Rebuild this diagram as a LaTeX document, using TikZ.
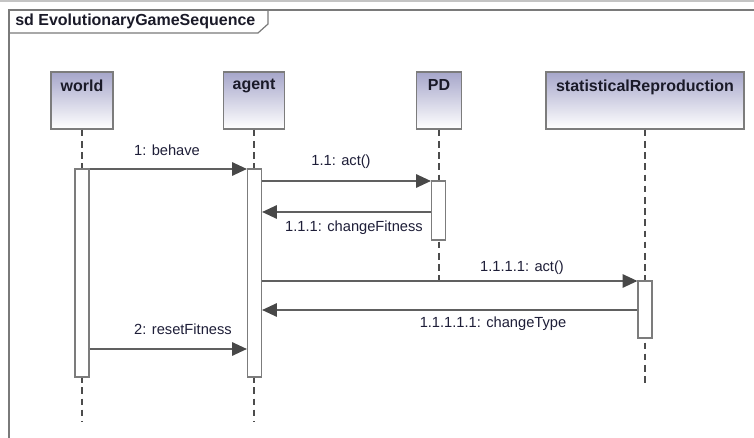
\documentclass[tikz,border=0pt]{standalone}
\usepackage{fontspec}
\setmainfont{Liberation Sans}
\usetikzlibrary{arrows.meta}

\definecolor{framegray}{HTML}{7A7A7A}
\definecolor{bargray}{HTML}{C4C4C4}
\definecolor{boxline}{HTML}{7C7C7C}
\definecolor{headtop}{HTML}{A6A6CA}
\definecolor{lifegray}{HTML}{4C4C4C}
\definecolor{msggray}{HTML}{606060}
\definecolor{tipgray}{HTML}{484848}
\definecolor{labelink}{HTML}{1E1E38}
\definecolor{nameink}{HTML}{1A1A28}

\tikzset{
  head/.style={draw=boxline, line width=1.1pt, top color=headtop, bottom color=white,
    minimum height=57*0.75pt, inner sep=0pt},
  headname/.style={font=\bfseries\fontsize{12}{14}\selectfont, text=nameink, anchor=north, yshift=-6pt, inner sep=0pt},
  lifeline/.style={draw=lifegray, line width=2.1pt, dash pattern=on 5pt off 3.4pt},
  activation/.style={draw=boxline, fill=white, line width=0.9pt, minimum width=14*0.75pt, inner sep=0pt},
  msg/.style={draw=msggray, line width=1.1pt, -{Triangle[length=11pt,width=10pt,color=tipgray,fill=tipgray]}},
  msglabel/.style={font=\fontsize{11}{13}\selectfont, text=labelink, inner sep=0pt},
}

\begin{document}
\begin{tikzpicture}[x=0.75pt, y=-0.75pt]
  \useasboundingbox (0,0) rectangle (754,438);
  \fill[white] (0,0) rectangle (754,438);

  % window strip and frame
  \fill[bargray] (0,0) rectangle (754,2);
  \draw[framegray, line width=1.1pt] (754,10) -- (9,10) -- (9,438);
  \draw[framegray, line width=0.9pt] (9,33) -- (258,33) -- (268,24) -- (268,10);
  \node[anchor=west, font=\bfseries\fontsize{12}{14}\selectfont, text=nameink, inner sep=0pt] (title) at (15,21) {sd EvolutionaryGameSequence};

  % lifeline heads
  \node[head, minimum width=62*0.75pt, label={[headname]north:world}] (world) at (82,100.5) {};
  \node[head, minimum width=61*0.75pt, label={[headname]north:agent}] (agent) at (254,100.5) {};
  \node[head, minimum width=45*0.75pt, label={[headname]north:PD}] (pd) at (439,100.5) {};
  \node[head, minimum width=198*0.75pt, label={[headname]north:statisticalReproduction}] (sr) at (645,100.5) {};

  % lifeline ends
  \coordinate (worldEnd) at (82,421);
  \coordinate (agentEnd) at (254,421);
  \coordinate (pdEnd) at (439,284);
  \coordinate (srEnd) at (645,383);

  \draw[lifeline] (world.south) -- (worldEnd);
  \draw[lifeline] (agent.south) -- (agentEnd);
  \draw[lifeline] (pd.south) -- (pdEnd);
  \draw[lifeline] (sr.south) -- (srEnd);

  % activation bars
  \node[activation, minimum height=208*0.75pt] (worldAct) at (82,273) {};
  \node[activation, minimum height=208*0.75pt] (agentAct) at (254.5,273) {};
  \node[activation, minimum height=59*0.75pt] (pdAct) at (438.5,210.5) {};
  \node[activation, minimum height=57*0.75pt] (srAct) at (645,309.5) {};

  % messages
  \draw[msg] (worldAct.east |- 0,169) -- (agentAct.west |- 0,169);
  \node[msglabel] (l1) at (167,150) {1: behave};

  \draw[msg] (agentAct.east |- 0,181) -- (pdAct.west |- 0,181);
  \node[msglabel] (l11) at (341,162) {1.1: act()};

  \draw[msg] (pdAct.west |- 0,212) -- (agentAct.east |- 0,212);
  \node[msglabel] (l111) at (354,228) {1.1.1: changeFitness};

  \draw[msg] (agentAct.east |- 0,281) -- (srAct.west |- 0,281);
  \node[msglabel] (l1111) at (522,268) {1.1.1.1: act()};

  \draw[msg] (srAct.west |- 0,310) -- (agentAct.east |- 0,310);
  \node[msglabel] (l11111) at (493,324) {1.1.1.1.1: changeType};

  \draw[msg] (worldAct.east |- 0,349) -- (agentAct.west |- 0,349);
  \node[msglabel] (l2) at (183,329) {2: resetFitness};
\end{tikzpicture}
\end{document}
